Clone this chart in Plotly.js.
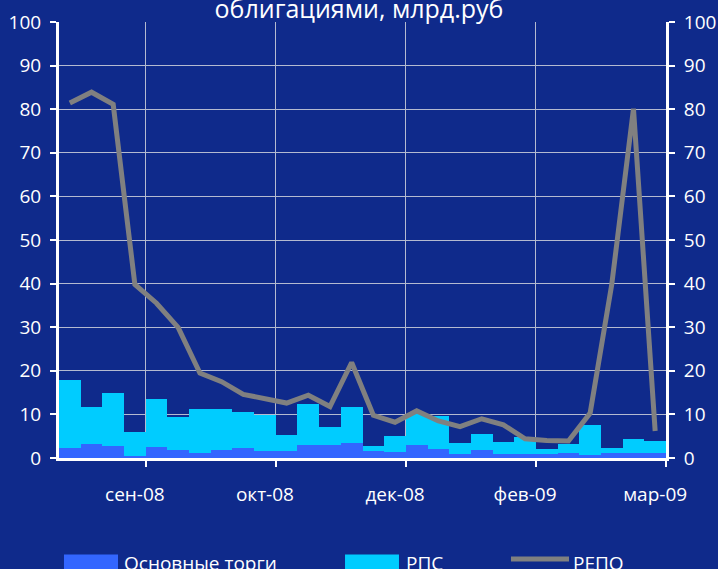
<!DOCTYPE html>
<html>
<head>
<meta charset="utf-8">
<script src="https://cdn.plot.ly/plotly-3.0.1.min.js"></script>
<style>
  html, body { margin: 0; padding: 0; background: #0F2A8B; }
  #chart { width: 718px; height: 569px; }
</style>
</head>
<body>
<div id="chart"></div>
<script>
// ---- data ----
const periodIndex = [0,1,2,3,4,5,6,7,8,9,10,11,12,13,14,15,16,17,18,19,20,21,22,23,24,25,26,27];
const mainTrading = [2.4,3.3,2.8,0.5,2.6,1.9,1.2,1.9,2.4,1.7,1.7,3.0,3.0,3.5,1.7,1.4,3.0,2.1,1.0,1.9,1.0,1.0,1.0,1.2,0.8,1.2,1.2,1.2];
const rps = [15.5,8.4,12.2,5.4,11.0,7.6,10.1,9.4,8.2,8.1,3.6,9.5,4.2,8.2,1.1,3.7,7.1,7.6,2.5,3.7,2.7,3.9,1.1,2.1,6.8,1.2,3.2,2.8];
const repo = [81.4,83.9,81.1,39.8,35.5,29.9,19.5,17.5,14.6,13.6,12.6,14.4,11.8,21.9,9.8,8.2,10.8,8.5,7.2,9.0,7.6,4.4,4.0,3.9,10.3,39.9,80.1,6.2];
const tickLabels = ['сен-08','окт-08','дек-08','фев-09','мар-09'];
const tickLabelIdx = [3,9,15,21,27];
const tickMarkPos = [3.5,9.5,15.5,21.5,27.5];
const seriesNames = ['Основные торги','РПС','РЕПО'];
const titleText = 'облигациями, млрд.руб';

const BG = '#0F2A8B';
const FONT = 'Open Sans, Noto Sans, sans-serif';
const COL_MAIN = '#3366FF', COL_RPS = '#00CCFF', COL_REPO = '#808080';

const traces = [
  { type: 'bar', x: periodIndex, y: mainTrading, name: seriesNames[0],
    marker: { color: COL_MAIN, line: { width: 0 } } },
  { type: 'bar', x: periodIndex, y: rps, name: seriesNames[1],
    marker: { color: COL_RPS, line: { width: 0 } } },
  { type: 'scatter', mode: 'lines', x: periodIndex, y: repo, name: seriesNames[2],
    xaxis: 'x2', yaxis: 'y2',
    line: { color: COL_REPO, width: 5 } }
];

// custom legend (large swatches like the reference), placed in paper coordinates
const legendY = -0.2398;
const shapes = [
  { type: 'rect', xref: 'paper', yref: 'paper', x0: 0.0082, x1: 0.0972, y0: -0.275, y1: -0.2214,
    fillcolor: COL_MAIN, line: { width: 0 } },
  { type: 'rect', xref: 'paper', yref: 'paper', x0: 0.4712, x1: 0.5601, y0: -0.275, y1: -0.2214,
    fillcolor: COL_RPS, line: { width: 0 } },
  { type: 'line', xref: 'paper', yref: 'paper', x0: 0.7446, x1: 0.8402, y0: -0.2317, y1: -0.2317,
    line: { color: COL_REPO, width: 5 } }
];
const legendFont = { family: FONT, size: 19, color: 'white' };
const annotations = [
  { xref: 'paper', yref: 'paper', x: 0.1030, y: legendY, xanchor: 'left', yanchor: 'middle',
    text: seriesNames[0], showarrow: false, font: legendFont },
  { xref: 'paper', yref: 'paper', x: 0.5680, y: legendY, xanchor: 'left', yanchor: 'middle',
    text: seriesNames[1], showarrow: false, font: legendFont },
  { xref: 'paper', yref: 'paper', x: 0.8430, y: legendY, xanchor: 'left', yanchor: 'middle',
    text: seriesNames[2], showarrow: false, font: legendFont }
];

const tickFont = { family: FONT, size: 19, color: 'white' };

const layout = {
  width: 718, height: 569,
  paper_bgcolor: BG, plot_bgcolor: BG,
  margin: { l: 59, r: 52, t: 21.6, b: 110.7, autoexpand: false },
  barmode: 'stack', bargap: 0,
  showlegend: false,
  title: { text: titleText, font: { family: FONT, size: 25, color: 'white' },
           x: 0.5, xanchor: 'center', y: 0.9833, yref: 'container', yanchor: 'middle' },
  xaxis: {
    type: 'linear', range: [-0.5, 27.5], fixedrange: true,
    tickmode: 'array', tickvals: tickMarkPos, ticktext: tickMarkPos.map(() => ''),
    ticks: 'outside', ticklen: 6, tickwidth: 2, tickcolor: 'white',
    showgrid: true, gridcolor: '#B4BAD0', gridwidth: 1,
    showline: true, linecolor: 'white', linewidth: 3, zeroline: false
  },
  xaxis2: {
    overlaying: 'x', anchor: 'y', side: 'bottom', type: 'linear', range: [-0.5, 27.5],
    tickmode: 'array', tickvals: tickLabelIdx, ticktext: tickLabels,
    ticks: 'outside', ticklen: 19, tickcolor: 'rgba(0,0,0,0)',
    tickfont: tickFont,
    showgrid: false, showline: false, zeroline: false
  },
  yaxis: {
    range: [0, 100], dtick: 10, tick0: 0, fixedrange: true,
    ticks: 'outside', ticklen: 6, tickwidth: 2, tickcolor: 'white',
    ticklabelstandoff: 5,
    showgrid: true, gridcolor: '#B4BAD0', gridwidth: 1,
    showline: true, linecolor: 'white', linewidth: 3, zeroline: false,
    tickfont: tickFont
  },
  yaxis2: {
    overlaying: 'y', side: 'right', anchor: 'x2', range: [0, 100], dtick: 10, tick0: 0,
    ticks: 'outside', ticklen: 6, tickwidth: 2, tickcolor: 'white',
    ticklabelstandoff: 5,
    showgrid: false, showline: true, linecolor: 'white', linewidth: 3, zeroline: false,
    tickfont: tickFont
  },
  shapes: shapes,
  annotations: annotations
};

Plotly.newPlot('chart', traces, layout, { displayModeBar: false, staticPlot: true });
</script>
</body>
</html>
